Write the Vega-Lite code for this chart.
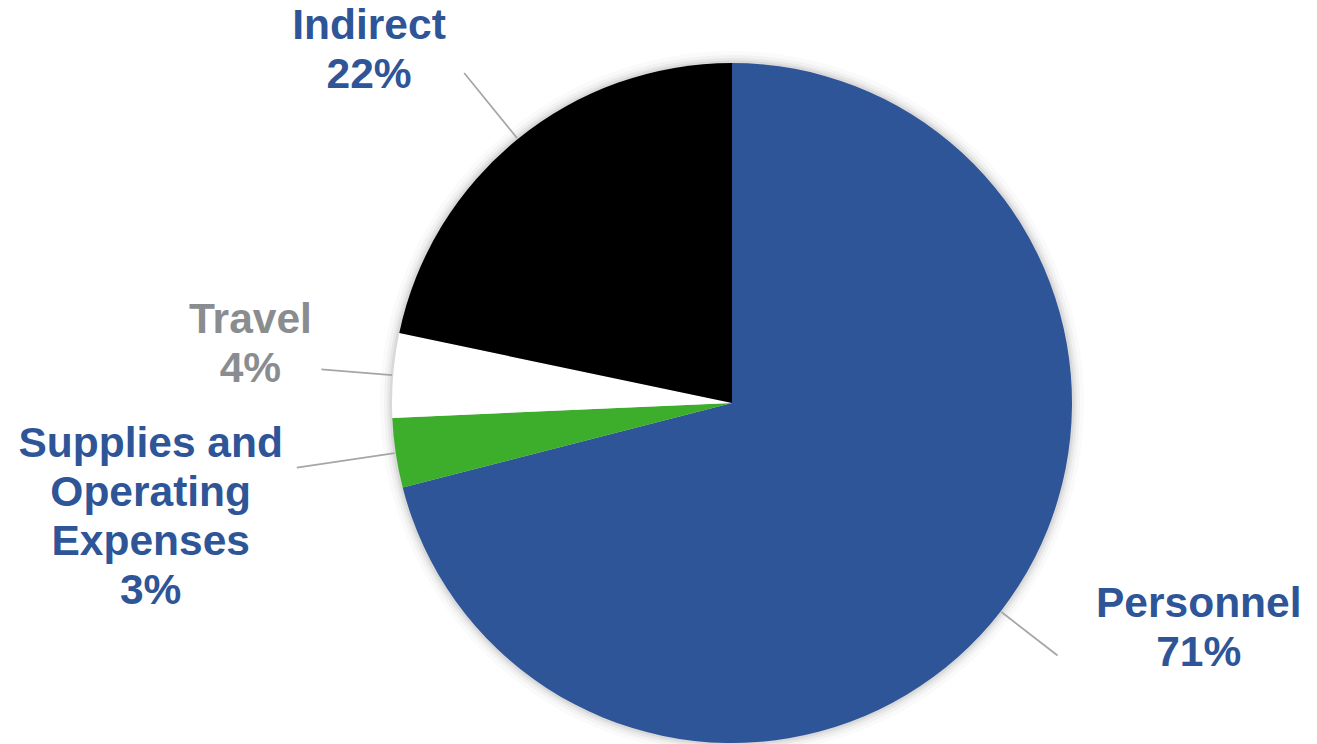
{
  "$schema": "https://vega.github.io/schema/vega-lite/v6.json",
  "width": 1170,
  "height": 682,
  "autosize": {"type": "none"},
  "padding": {"left": 147, "top": 62, "right": 0, "bottom": 0},
  "background": "white",
  "config": {"view": {"stroke": null}},
  "data": {
    "values": [
      {"category": "Personnel", "value": 71.0, "order": 1, "label": "Personnel\n71%"},
      {"category": "Supplies and Operating Expenses", "value": 3.3, "order": 2, "label": "Supplies and\nOperating\nExpenses\n3%"},
      {"category": "Travel", "value": 4.0, "order": 3, "label": "Travel\n4%"},
      {"category": "Indirect", "value": 21.7, "order": 4, "label": "Indirect\n22%"}
    ]
  },
  "resolve": {"scale": {"theta": "independent"}},
  "layer": [
    {
      "mark": {"type": "arc", "radius": 352, "fill": "black", "opacity": 0.02},
      "encoding": {"theta": {"aggregate": "sum", "field": "value", "type": "quantitative"}}
    },
    {
      "mark": {"type": "arc", "radius": 348, "fill": "black", "opacity": 0.03},
      "encoding": {"theta": {"aggregate": "sum", "field": "value", "type": "quantitative"}}
    },
    {
      "mark": {"type": "arc", "radius": 345, "fill": "black", "opacity": 0.045},
      "encoding": {"theta": {"aggregate": "sum", "field": "value", "type": "quantitative"}}
    },
    {
      "mark": {"type": "arc", "radius": 342.5, "fill": "black", "opacity": 0.06},
      "encoding": {"theta": {"aggregate": "sum", "field": "value", "type": "quantitative"}}
    },
    {
      "mark": {"type": "arc", "radius": 340, "strokeWidth": 0},
      "encoding": {
        "theta": {"field": "value", "type": "quantitative", "stack": true},
        "order": {"field": "order", "type": "quantitative"},
        "color": {
          "field": "category",
          "type": "nominal",
          "scale": {
            "domain": ["Personnel", "Supplies and Operating Expenses", "Travel", "Indirect"],
            "range": ["#2E5597", "#3DAE2B", "#FFFFFF", "#000000"]
          },
          "legend": null
        }
      }
    },
    {
      "mark": {"type": "arc", "radius": 425, "radius2": 341, "padAngle": 3, "fill": "transparent", "stroke": "#A6A6A6", "strokeWidth": 1.75},
      "encoding": {
        "theta": {"field": "value", "type": "quantitative", "stack": true},
        "order": {"field": "order", "type": "quantitative"},
        "detail": {"field": "category", "type": "nominal"},
        "strokeOpacity": {"condition": {"test": "datum.category === 'Indirect'", "value": 1}, "value": 0}
      }
    },
    {
      "mark": {"type": "arc", "radius": 412, "radius2": 341, "padAngle": 3, "fill": "transparent", "stroke": "#A6A6A6", "strokeWidth": 1.75},
      "encoding": {
        "theta": {"field": "value", "type": "quantitative", "stack": true},
        "order": {"field": "order", "type": "quantitative"},
        "detail": {"field": "category", "type": "nominal"},
        "strokeOpacity": {"condition": {"test": "datum.category === 'Travel'", "value": 1}, "value": 0}
      }
    },
    {
      "mark": {"type": "arc", "radius": 440, "radius2": 341, "padAngle": 3, "fill": "transparent", "stroke": "#A6A6A6", "strokeWidth": 1.75},
      "encoding": {
        "theta": {"field": "value", "type": "quantitative", "stack": true},
        "order": {"field": "order", "type": "quantitative"},
        "detail": {"field": "category", "type": "nominal"},
        "strokeOpacity": {"condition": {"test": "datum.category === 'Supplies and Operating Expenses'", "value": 1}, "value": 0}
      }
    },
    {
      "transform": [{"filter": "datum.category === 'Personnel'"}],
      "mark": {"type": "arc", "radius": 412, "radius2": 341, "fill": "transparent", "stroke": "#A6A6A6", "strokeWidth": 1.75},
      "encoding": {
        "theta": {"field": "value", "type": "quantitative", "stack": null, "scale": {"domain": [0, 200]}},
        "theta2": {"field": "value"}
      }
    },
    {
      "mark": {"type": "text", "radius": 430, "dx": -92, "dy": -30, "align": "center", "baseline": "alphabetic", "lineBreak": "\n", "lineHeight": 49, "font": "Liberation Sans", "fontWeight": "bold", "fontSize": 42.5, "fill": "#2E5597"},
      "encoding": {
        "theta": {"field": "value", "type": "quantitative", "stack": true},
        "order": {"field": "order", "type": "quantitative"},
        "detail": {"field": "category", "type": "nominal"},
        "text": {"condition": {"test": "datum.category === 'Indirect'", "field": "label"}, "value": ""}
      }
    },
    {
      "mark": {"type": "text", "radius": 430, "dx": -53, "dy": -35, "align": "center", "baseline": "alphabetic", "lineBreak": "\n", "lineHeight": 49, "font": "Liberation Sans", "fontWeight": "bold", "fontSize": 42.5, "fill": "#8A8D90"},
      "encoding": {
        "theta": {"field": "value", "type": "quantitative", "stack": true},
        "order": {"field": "order", "type": "quantitative"},
        "detail": {"field": "category", "type": "nominal"},
        "text": {"condition": {"test": "datum.category === 'Travel'", "field": "label"}, "value": ""}
      }
    },
    {
      "mark": {"type": "text", "radius": 430, "dx": -156, "dy": -9, "align": "center", "baseline": "alphabetic", "lineBreak": "\n", "lineHeight": 49, "font": "Liberation Sans", "fontWeight": "bold", "fontSize": 42.5, "fill": "#2E5597"},
      "encoding": {
        "theta": {"field": "value", "type": "quantitative", "stack": true},
        "order": {"field": "order", "type": "quantitative"},
        "detail": {"field": "category", "type": "nominal"},
        "text": {"condition": {"test": "datum.category === 'Supplies and Operating Expenses'", "field": "label"}, "value": ""}
      }
    },
    {
      "mark": {"type": "text", "radius": 430, "dx": 127, "dy": -50, "align": "center", "baseline": "alphabetic", "lineBreak": "\n", "lineHeight": 49, "font": "Liberation Sans", "fontWeight": "bold", "fontSize": 42.5, "fill": "#2E5597"},
      "encoding": {
        "theta": {"field": "value", "type": "quantitative", "stack": true},
        "order": {"field": "order", "type": "quantitative"},
        "detail": {"field": "category", "type": "nominal"},
        "text": {"condition": {"test": "datum.category === 'Personnel'", "field": "label"}, "value": ""}
      }
    }
  ]
}
